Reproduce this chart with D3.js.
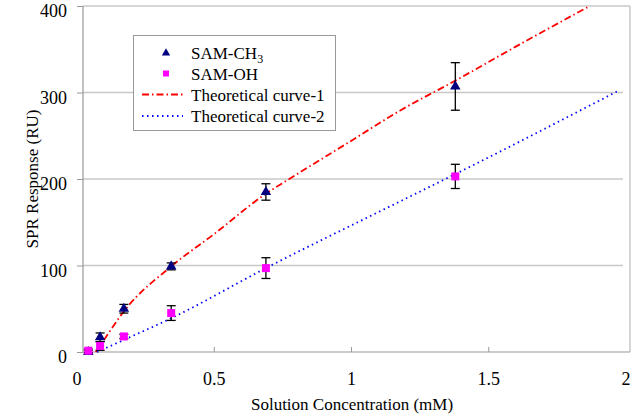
<!DOCTYPE html>
<html>
<head>
<meta charset="utf-8">
<script src="https://cdn.jsdelivr.net/npm/d3@7"></script>
<style>
body { margin: 0; background: #fff; }
text { font-family: "Liberation Serif", "Times New Roman", serif; fill: #000; }
</style>
</head>
<body>
<div id="chart"></div>
<script>
// measured points (concentration in mM)
var conc = [0.043, 0.086, 0.1725, 0.345, 0.69, 1.38];
var ch3 = [0, 17, 50, 99, 185, 307];
var ch3Err = [2, 5, 5, 4, 9.5, 27.5];
var oh = [1.5, 7, 18, 45, 97, 203];
var ohErr = [2, 5, 2.5, 8.5, 12, 14];

// theoretical curves
var curve1X = [0.07, 0.1, 0.1725, 0.345, 0.5, 0.69, 0.77, 1.0, 1.178, 1.382, 1.6, 1.87];
var curve1Y = [0, 14, 47, 99, 136, 183, 199, 244, 279, 314, 353, 400];
var curve2X = [0.075, 0.1725, 0.345, 0.69, 1.178, 1.382, 1.98];
var curve2Y = [0, 14, 39, 97, 174, 206, 303];

var xTicks = [0, 0.5, 1, 1.5, 2];
var yTicks = [0, 100, 200, 300, 400];
var legendLabels = ["SAM-CH", "SAM-OH", "Theoretical curve-1", "Theoretical curve-2"];

var width = 637, height = 418;
var frameL = 83, frameR = 630, frameT = 6, frameB = 352;

var svg = d3.select("#chart").append("svg")
    .attr("width", width)
    .attr("height", height);

svg.append("rect").attr("width", width).attr("height", height).attr("fill", "#fff");

var x = d3.scaleLinear().domain([0, 2]).range([76.5, 625.5]);
var y = d3.scaleLinear().domain([0, 400]).range([frameB, frameT]);

// gridlines
svg.append("g").selectAll("line")
    .data(yTicks.slice(1))
    .enter().append("line")
    .attr("x1", frameL).attr("x2", function(d) { return d == 400 ? frameR : 623; })
    .attr("y1", function(d) { return y(d); })
    .attr("y2", function(d) { return y(d); })
    .attr("stroke", "#c8c8c8").attr("stroke-width", 1.5);

// right border of plot area
svg.append("line")
    .attr("x1", frameR).attr("x2", frameR).attr("y1", frameT).attr("y2", frameB)
    .attr("stroke", "#c8c8c8").attr("stroke-width", 1.5);

// y axis
var yAxis = svg.append("g")
    .attr("transform", "translate(" + frameL + ",0)")
    .call(d3.axisLeft(y).tickValues(yTicks).tickSize(6).tickPadding(10));
yAxis.select(".domain").remove();
yAxis.selectAll(".tick line").attr("stroke", "#999");
yAxis.selectAll("text").attr("font-size", 18).attr("dy", "0.6em")
    .style("font-family", "Liberation Serif");

svg.append("line")
    .attr("x1", frameL).attr("x2", frameL).attr("y1", frameT).attr("y2", frameB)
    .attr("stroke", "#999").attr("stroke-width", 1.2);

// x axis
var xAxis = svg.append("g")
    .attr("transform", "translate(0," + frameB + ")")
    .call(d3.axisBottom(x).tickValues(xTicks).tickSizeInner(-5).tickSizeOuter(0).tickPadding(20)
          .tickFormat(function(d) { return d; }));
xAxis.select(".domain").remove();
xAxis.selectAll(".tick line").attr("stroke", "#999")
    .attr("opacity", function(d) { return (d > 0 && d < 2) ? 1 : 0; });
xAxis.selectAll("text").attr("font-size", 18).style("font-family", "Liberation Serif");

svg.append("line")
    .attr("x1", frameL).attr("x2", frameR).attr("y1", frameB).attr("y2", frameB)
    .attr("stroke", "#999").attr("stroke-width", 1.2);

// axis titles
svg.append("text")
    .attr("transform", "translate(38,179) rotate(-90)")
    .attr("text-anchor", "middle")
    .attr("font-size", 17)
    .text("SPR Response (RU)");

svg.append("text")
    .attr("x", 352).attr("y", 410)
    .attr("text-anchor", "middle")
    .attr("font-size", 17)
    .text("Solution Concentration (mM)");

// theoretical curves
var line = d3.line()
    .x(function(d) { return x(d[0]); })
    .y(function(d) { return y(d[1]); })
    .curve(d3.curveMonotoneX);

svg.append("path")
    .datum(d3.zip(curve1X, curve1Y))
    .attr("d", line)
    .attr("fill", "none")
    .attr("stroke", "#ff0000")
    .attr("stroke-width", 1.8)
    .attr("stroke-dasharray", "7,3,1.5,3");

svg.append("path")
    .datum(d3.zip(curve2X, curve2Y))
    .attr("d", line)
    .attr("fill", "none")
    .attr("stroke", "#0000ff")
    .attr("stroke-width", 1.8)
    .attr("stroke-dasharray", "1.5,3.5");

// error bars
function errorBars(vals, errs) {
    var g = svg.append("g").attr("stroke", "#000").attr("stroke-width", 1.3);
    conc.forEach(function(c, i) {
	var cx = x(c), lo = y(vals[i] - errs[i]), hi = y(vals[i] + errs[i]);
	g.append("line").attr("x1", cx).attr("x2", cx).attr("y1", lo).attr("y2", hi);
	g.append("line").attr("x1", cx - 4.5).attr("x2", cx + 4.5).attr("y1", lo).attr("y2", lo);
	g.append("line").attr("x1", cx - 4.5).attr("x2", cx + 4.5).attr("y1", hi).attr("y2", hi);
    });
}
errorBars(ch3, ch3Err);
errorBars(oh, ohErr);

// markers
var tri = d3.symbol().type(d3.symbolTriangle).size(48);
var sq = d3.symbol().type(d3.symbolSquare).size(64);

svg.append("g").selectAll("path")
    .data(conc)
    .enter().append("path")
    .attr("d", tri)
    .attr("transform", function(d, i) { return "translate(" + x(d) + "," + y(ch3[i]) + ")"; })
    .attr("fill", "#000080");

svg.append("g").selectAll("path")
    .data(conc)
    .enter().append("path")
    .attr("d", sq)
    .attr("transform", function(d, i) { return "translate(" + x(d) + "," + y(oh[i]) + ")"; })
    .attr("fill", "#ff00ff");

// legend
var legend = svg.append("g");
legend.append("rect")
    .attr("x", 133.5).attr("y", 35.5).attr("width", 202).attr("height", 95)
    .attr("fill", "#fff").attr("stroke", "#999").attr("stroke-width", 1);

var rowY = [53, 73.5, 94.5, 116];

legend.append("path")
    .attr("d", d3.symbol().type(d3.symbolTriangle).size(30))
    .attr("transform", "translate(166," + rowY[0] + ")")
    .attr("fill", "#000080");
legend.append("rect")
    .attr("x", 163).attr("y", rowY[1] - 3).attr("width", 6).attr("height", 6)
    .attr("fill", "#ff00ff");
legend.append("line")
    .attr("x1", 142).attr("x2", 183).attr("y1", rowY[2]).attr("y2", rowY[2])
    .attr("stroke", "#ff0000").attr("stroke-width", 1.8).attr("stroke-dasharray", "7,3,1.5,3");
legend.append("line")
    .attr("x1", 142).attr("x2", 183).attr("y1", rowY[3]).attr("y2", rowY[3])
    .attr("stroke", "#0000ff").attr("stroke-width", 1.8).attr("stroke-dasharray", "1.5,3.5");

legend.selectAll("text.lab")
    .data(legendLabels)
    .enter().append("text")
    .attr("class", "lab")
    .attr("x", 191)
    .attr("y", function(d, i) { return rowY[i] + 6; })
    .attr("font-size", 17)
    .each(function(d, i) {
	var t = d3.select(this);
	t.append("tspan").text(d);
	if (i == 0) t.append("tspan").attr("font-size", 12).attr("dy", 4).text("3");
    });
</script>
</body>
</html>
